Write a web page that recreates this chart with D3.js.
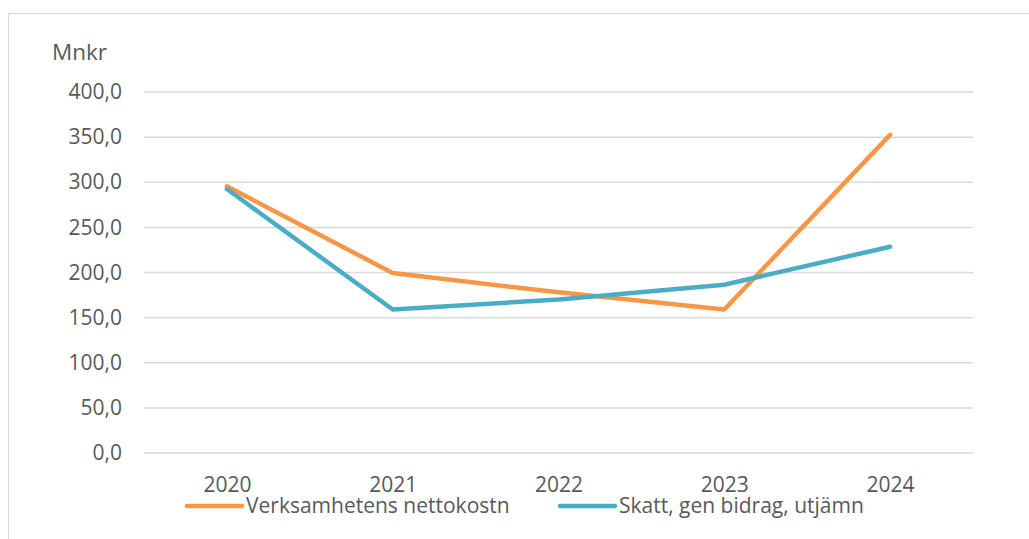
<!DOCTYPE html>
<html>
<head>
<meta charset="utf-8">
<script src="https://cdnjs.cloudflare.com/ajax/libs/d3/7.8.5/d3.min.js"></script>
<style>
  body { margin: 0; background: #fff; }
  text { font-family: "Open Sans", Lato, sans-serif; fill: #595959; }
</style>
</head>
<body>
<svg id="chart"></svg>
<script>
var years = ["2020", "2021", "2022", "2023", "2024"];
var nettokostn = [295.5, 199.5, 178, 159, 352.5];
var skatt = [292.5, 159, 170, 186.5, 228.5];
var yTicks = [0, 50, 100, 150, 200, 250, 300, 350, 400];
var seriesNames = ["Verksamhetens nettokostn", "Skatt, gen bidrag, utjämn"];
var colors = ["#F79646", "#4BACC6"];

var screen = {width: 1029, height: 539};
var margins = {top: 92, bottom: 86, left: 144, right: 56};

var graph = {
    width: screen.width - margins.left - margins.right,
    height: screen.height - margins.top - margins.bottom
};

var svg = d3.select("#chart")
    .attr("width", screen.width)
    .attr("height", screen.height);

// chart frame
svg.append("rect")
    .attr("x", 8.5).attr("y", 13.5)
    .attr("width", 1040).attr("height", 540)
    .attr("fill", "none")
    .attr("stroke", "#d9d9d9");

var xScale = d3.scalePoint()
    .domain(years)
    .range([0, graph.width])
    .padding(0.5);

var yScale = d3.scaleLinear()
    .domain([0, 400])
    .range([graph.height, 0]);

var g = svg.append("g")
    .attr("transform", "translate(" + margins.left + "," + margins.top + ")");

// gridlines
g.selectAll("line.grid")
    .data(yTicks)
    .enter()
    .append("line")
    .classed("grid", true)
    .attr("x1", 0)
    .attr("x2", graph.width)
    .attr("y1", function(d) { return yScale(d); })
    .attr("y2", function(d) { return yScale(d); })
    .attr("stroke", "#d9d9d9")
    .attr("stroke-width", 1.5);

var yAxis = d3.axisLeft(yScale)
    .tickValues(yTicks)
    .tickSize(0)
    .tickPadding(22)
    .tickFormat(function(d) { return d3.format(".1f")(d).replace(".", ","); });

g.append("g")
    .call(yAxis)
    .call(function(a) { a.select(".domain").remove(); })
    .selectAll("text")
    .style("font-size", "21px")
    .attr("fill", "#595959");

var xAxis = d3.axisBottom(xScale)
    .tickSize(0)
    .tickPadding(24);

g.append("g")
    .attr("transform", "translate(0," + graph.height + ")")
    .call(xAxis)
    .call(function(a) { a.select(".domain").remove(); })
    .selectAll("text")
    .style("font-size", "21px")
    .attr("fill", "#595959");

svg.append("text")
    .attr("x", 52)
    .attr("y", 60)
    .style("font-size", "22.5px")
    .text("Mnkr");

var line = d3.line()
    .x(function(d, i) { return xScale(years[i]); })
    .y(function(d) { return yScale(d); });

[nettokostn, skatt].forEach(function(s, i) {
    g.append("path")
        .datum(s)
        .attr("d", line)
        .attr("fill", "none")
        .attr("stroke", colors[i])
        .attr("stroke-width", 4.5)
        .attr("stroke-linejoin", "round")
        .attr("stroke-linecap", "round");
});

// legend
var legendX = [187, 560];
var legend = svg.selectAll("g.legend")
    .data(seriesNames)
    .enter()
    .append("g")
    .classed("legend", true)
    .attr("transform", function(d, i) { return "translate(" + legendX[i] + ",506)"; });

legend.append("line")
    .attr("x1", 0).attr("x2", 55)
    .attr("stroke", function(d, i) { return colors[i]; })
    .attr("stroke-width", 4.5)
    .attr("stroke-linecap", "round");

legend.append("text")
    .attr("x", 59)
    .attr("y", 7)
    .style("font-size", "21px")
    .text(function(d) { return d; });
</script>
</body>
</html>
